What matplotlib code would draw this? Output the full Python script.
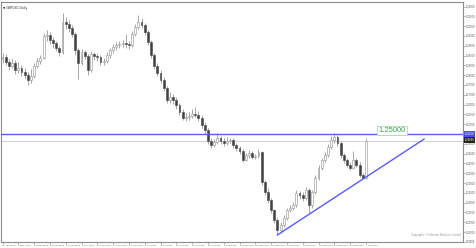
import matplotlib
matplotlib.use("Agg")
import matplotlib.pyplot as plt
import numpy as np

plt.rcParams['font.family'] = ['Liberation Sans', 'DejaVu Sans']

symbol_label = "GBPUSD,Daily"
copyright_text = "Copyright \u00a9 Fullerton Markets Limited"

opens = [1.2880, 1.2893, 1.2867, 1.2847, 1.2862, 1.2826, 1.2837, 1.2816, 1.2801, 1.2775,
         1.2796, 1.2847, 1.2872, 1.2888, 1.3000, 1.3004, 1.2979, 1.2964, 1.2939, 1.2918,
         1.3071, 1.3061, 1.3041, 1.3010, 1.2928, 1.2862, 1.2918, 1.2898, 1.2826, 1.2908,
         1.2898, 1.2893, 1.2867, 1.2872, 1.2903, 1.2928, 1.2944, 1.2954, 1.2959, 1.2962,
         1.2957, 1.2954, 1.3010, 1.3046, 1.3071, 1.3056, 1.3020, 1.2969, 1.2903, 1.2847,
         1.2811, 1.2775, 1.2735, 1.2673, 1.2689, 1.2673, 1.2648, 1.2612, 1.2582, 1.2585,
         1.2592, 1.2602, 1.2598, 1.2582, 1.2546, 1.2520, 1.2464, 1.2444, 1.2459, 1.2480,
         1.2464, 1.2454, 1.2464, 1.2469, 1.2444, 1.2429, 1.2413, 1.2367, 1.2393, 1.2403,
         1.2383, 1.2388, 1.2408, 1.2255, 1.2204, 1.2163, 1.2112, 1.2061, 1.2010, 1.2036,
         1.2072, 1.2112, 1.2123, 1.2138, 1.2199, 1.2189, 1.2174, 1.2214, 1.2138, 1.2204,
         1.2276, 1.2327, 1.2367, 1.2393, 1.2434, 1.2469, 1.2485, 1.2454, 1.2393, 1.2367,
         1.2342, 1.2327, 1.2367, 1.2342, 1.2291, 1.2276]

closes = [1.2893, 1.2867, 1.2847, 1.2862, 1.2826, 1.2837, 1.2816, 1.2801, 1.2775, 1.2796,
          1.2847, 1.2872, 1.2888, 1.3000, 1.3004, 1.2979, 1.2964, 1.2939, 1.2918, 1.3071,
          1.3061, 1.3041, 1.3010, 1.2928, 1.2862, 1.2918, 1.2898, 1.2826, 1.2908, 1.2898,
          1.2893, 1.2867, 1.2872, 1.2903, 1.2928, 1.2944, 1.2954, 1.2959, 1.2962, 1.2957,
          1.2954, 1.3010, 1.3046, 1.3071, 1.3056, 1.3020, 1.2969, 1.2903, 1.2847, 1.2811,
          1.2775, 1.2735, 1.2673, 1.2689, 1.2673, 1.2648, 1.2612, 1.2582, 1.2585, 1.2592,
          1.2602, 1.2598, 1.2582, 1.2546, 1.2520, 1.2464, 1.2444, 1.2459, 1.2480, 1.2464,
          1.2454, 1.2464, 1.2469, 1.2444, 1.2429, 1.2413, 1.2367, 1.2393, 1.2403, 1.2383,
          1.2388, 1.2408, 1.2255, 1.2204, 1.2163, 1.2112, 1.2061, 1.2010, 1.2036, 1.2072,
          1.2112, 1.2123, 1.2138, 1.2199, 1.2189, 1.2174, 1.2214, 1.2138, 1.2204, 1.2276,
          1.2327, 1.2367, 1.2393, 1.2434, 1.2469, 1.2485, 1.2454, 1.2393, 1.2367, 1.2342,
          1.2327, 1.2367, 1.2342, 1.2291, 1.2276, 1.2464]

highs = [1.2915, 1.2908, 1.2884, 1.2889, 1.2875, 1.2866, 1.2850, 1.2835, 1.2818, 1.2830,
         1.2860, 1.2890, 1.2905, 1.3015, 1.3030, 1.3020, 1.2995, 1.2975, 1.2950, 1.3117,
         1.3095, 1.3080, 1.3055, 1.3020, 1.2940, 1.2935, 1.2930, 1.2910, 1.2925, 1.2920,
         1.2915, 1.2905, 1.2890, 1.2918, 1.2940, 1.2958, 1.2968, 1.2975, 1.2978, 1.3010,
         1.2975, 1.3025, 1.3060, 1.3105, 1.3090, 1.3065, 1.3030, 1.2980, 1.2912, 1.2860,
         1.2825, 1.2790, 1.2745, 1.2715, 1.2705, 1.2690, 1.2660, 1.2625, 1.2605, 1.2610,
         1.2630, 1.2640, 1.2615, 1.2595, 1.2560, 1.2530, 1.2480, 1.2475, 1.2505, 1.2490,
         1.2478, 1.2485, 1.2482, 1.2478, 1.2455, 1.2440, 1.2425, 1.2405, 1.2418, 1.2415,
         1.2400, 1.2425, 1.2415, 1.2265, 1.2225, 1.2175, 1.2120, 1.2075, 1.2050, 1.2085,
         1.2125, 1.2140, 1.2155, 1.2215, 1.2210, 1.2205, 1.2230, 1.2225, 1.2215, 1.2290,
         1.2340, 1.2380, 1.2410, 1.2450, 1.2490, 1.2505, 1.2495, 1.2465, 1.2405, 1.2380,
         1.2355, 1.2415, 1.2378, 1.2355, 1.2300, 1.2480]

lows = [1.2862, 1.2850, 1.2828, 1.2835, 1.2805, 1.2812, 1.2795, 1.2780, 1.2750, 1.2762,
        1.2785, 1.2835, 1.2858, 1.2880, 1.2975, 1.2960, 1.2940, 1.2925, 1.2900, 1.2910,
        1.3035, 1.3020, 1.2995, 1.2905, 1.2780, 1.2850, 1.2880, 1.2800, 1.2815, 1.2875,
        1.2870, 1.2850, 1.2852, 1.2860, 1.2890, 1.2915, 1.2930, 1.2940, 1.2945, 1.2940,
        1.2935, 1.2945, 1.3000, 1.3035, 1.3040, 1.3005, 1.2955, 1.2890, 1.2830, 1.2795,
        1.2760, 1.2720, 1.2660, 1.2660, 1.2655, 1.2630, 1.2595, 1.2570, 1.2565, 1.2570,
        1.2580, 1.2585, 1.2565, 1.2530, 1.2500, 1.2450, 1.2430, 1.2432, 1.2450, 1.2450,
        1.2440, 1.2445, 1.2452, 1.2430, 1.2415, 1.2400, 1.2355, 1.2360, 1.2380, 1.2370,
        1.2372, 1.2380, 1.2240, 1.2190, 1.2150, 1.2095, 1.2045, 1.1985, 1.1995, 1.2025,
        1.2060, 1.2100, 1.2110, 1.2130, 1.2170, 1.2160, 1.2165, 1.2095, 1.2125, 1.2195,
        1.2265, 1.2315, 1.2355, 1.2385, 1.2425, 1.2455, 1.2440, 1.2380, 1.2350, 1.2330,
        1.2315, 1.2320, 1.2330, 1.2280, 1.2270, 1.2270]

date_labels = ["29 Apr 2019", "6 May 2019", "13 May 2019", "20 May 2019", "27 May 2019",
               "3 Jun 2019", "10 Jun 2019", "17 Jun 2019", "24 Jun 2019", "1 Jul 2019",
               "8 Jul 2019", "15 Jul 2019", "22 Jul 2019", "29 Jul 2019", "5 Aug 2019",
               "12 Aug 2019", "19 Aug 2019", "26 Aug 2019", "2 Sep 2019", "9 Sep 2019",
               "16 Sep 2019", "23 Sep 2019", "30 Sep 2019", "7 Oct 2019"]

price_ticks = [1.195, 1.200, 1.205, 1.210, 1.215, 1.220, 1.225, 1.230, 1.235, 1.240,
               1.245, 1.250, 1.255, 1.260, 1.265, 1.270, 1.275, 1.280, 1.285, 1.290,
               1.295, 1.300, 1.305, 1.310, 1.315]

resistance_level = 1.25000
trend_start = (87, 1.1985)
trend_end = (133.4, 1.2474)

# ---------------------------------------------------------------
W, H = 476, 248
fig = plt.figure(figsize=(W / 100, H / 100), dpi=100)
fig.patch.set_facecolor("white")
left, right, top, bottom = 1, 463, 2, 242
ax = fig.add_axes([left / W, 1 - bottom / H, (right - left) / W, (bottom - top) / H])

o = np.array(opens); c = np.array(closes); hi = np.array(highs); lo = np.array(lows)
x = np.arange(len(o))
bull = c >= o

ax.vlines(x, lo, hi, color="#8f8f8f", linewidth=0.55, zorder=3)
body_lo = np.minimum(o, c)
body_h = np.maximum(np.abs(c - o), 0.0003)
ax.bar(x[bull], body_h[bull], bottom=body_lo[bull], width=0.6,
       facecolor="white", edgecolor="#9a9a9a", linewidth=0.45, zorder=4)
ax.bar(x[~bull], body_h[~bull], bottom=body_lo[~bull], width=0.6,
       facecolor="#404040", edgecolor="#505050", linewidth=0.45, zorder=4)

# lines
ax.axhline(resistance_level, color="#5a5aff", linewidth=1.0, zorder=5)
ax.axhline(closes[-1], color="#d0d0d0", linewidth=0.7, zorder=2)
ax.plot([trend_start[0], trend_end[0]], [trend_start[1], trend_end[1]],
        color="#5a5aff", linewidth=1.0, zorder=5)

# label for resistance
ax.text(119.0, resistance_level + 0.0019, "1.25000", color="#3aa64a", fontsize=5.5,
        ha="left", va="center", zorder=6,
        bbox=dict(boxstyle="square,pad=0.15", facecolor="white", edgecolor="#a8dcb0", linewidth=0.6))

# limits
ax.set_xlim((left - 2.5) / 3.16, (right - 2.5) / 3.16)
k = 0.00051
ax.set_ylim(1.25 - (bottom - 134) * k, 1.25 + (134 - top) * k)

# y axis on right
ax.yaxis.tick_right()
ax.set_yticks(price_ticks)
ylabels = [f"{p:.5f}" for p in price_ticks]
ylabels[price_ticks.index(1.250)] = ""
ax.set_yticklabels(ylabels, fontsize=1.9, color="#555555")
ax.tick_params(axis="y", length=1.2, width=0.4, pad=0.6, colors="#777777", labelcolor="#555555")

# x axis
xt = x[::5]
ax.set_xticks(xt)
ax.set_xticklabels(date_labels, fontsize=1.7, color="#555555", ha="left")
ax.tick_params(axis="x", length=1.2, width=0.4, pad=0.6, colors="#777777", labelcolor="#555555")

for s in ax.spines.values():
    s.set_color("#8c8c8c")
    s.set_linewidth(0.8)

# axis price boxes
ax.text(1.003, resistance_level, "1.25000", transform=ax.get_yaxis_transform(),
        fontsize=1.9, color="white", va="center", ha="left", zorder=7,
        bbox=dict(boxstyle="square,pad=0.3", facecolor="#4a4aff", edgecolor="none"), clip_on=False)
ax.text(1.003, closes[-1] + 0.0006, f"{closes[-1]:.5f}", transform=ax.get_yaxis_transform(),
        fontsize=1.9, color="white", va="center", ha="left", zorder=7,
        bbox=dict(boxstyle="square,pad=0.3", facecolor="#222222", edgecolor="none"), clip_on=False)

# header and copyright
ax.text(0.005, 0.985, "\u25bc " + symbol_label, transform=ax.transAxes, fontsize=2.2,
        color="#333333", va="top", ha="left", family=["DejaVu Sans"])
ax.text(0.995, 0.02, copyright_text, transform=ax.transAxes, fontsize=2.1,
        color="#999999", va="bottom", ha="right")

fig.savefig("out.png", dpi=100, facecolor="white")
